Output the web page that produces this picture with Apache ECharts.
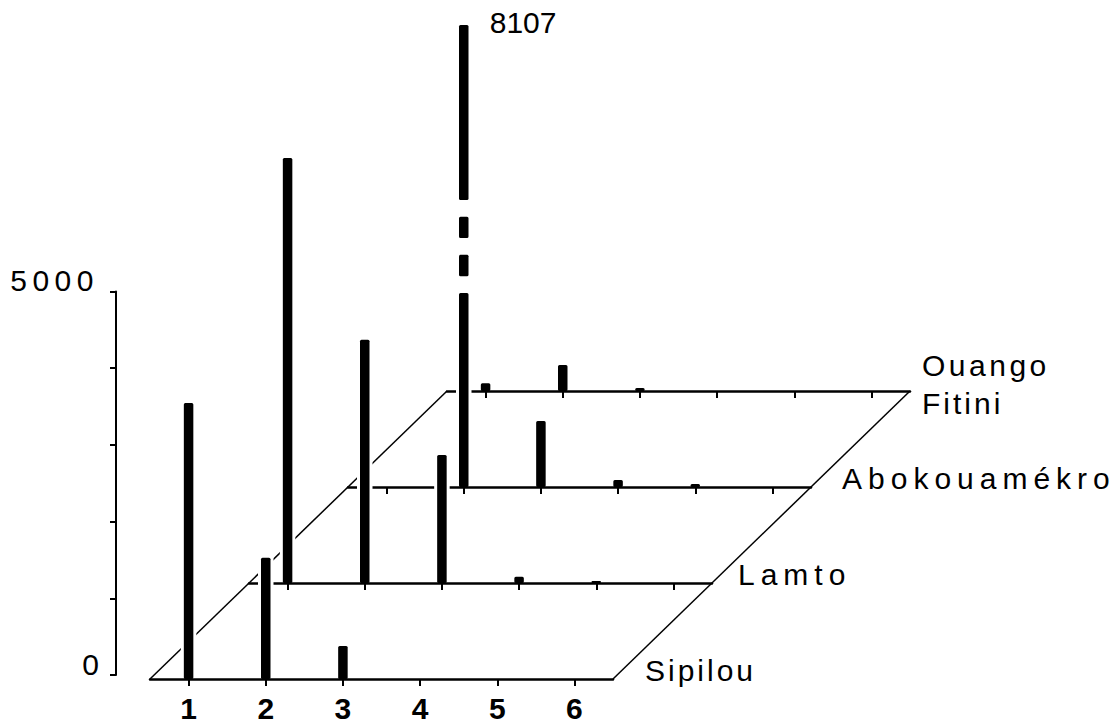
<!DOCTYPE html>
<html><head><meta charset="utf-8">
<script src="https://cdn.jsdelivr.net/npm/echarts@6/dist/echarts.min.js"></script>
<style>html,body{margin:0;padding:0;background:#fff}#c{width:1119px;height:725px}</style>
</head><body><div id="c"></div>
<script>
// ---- data ----
const CATEGORIES = ['1', '2', '3', '4', '5', '6'];
const SITES = ['Sipilou', 'Lamto', 'Abokouamékro', ['Ouango', 'Fitini']]; // front -> back
const SIPILOU = [3600, 1580, 430, 0, 0, 0];
const LAMTO = [5540, 3170, 1670, 80, 25, 0];
const ABOKOUAMEKRO = [0, 8107, 860, 90, 40, 0];
const OUANGO_FITINI = [100, 340, 40, 0, 0, 0];
const Y_LABELLED = [0, 5000];
const Y_MAX = 5000, Y_STEP = 1000;
const BREAK = { start: 2530, end: 5825, gap: 1213 }; // broken scale on the Abokouamékro row
const ROWS = [SIPILOU, LAMTO, ABOKOUAMEKRO, OUANGO_FITINI];
const BROKEN_ROW = 2;

// ---- layout / style ----
const FRONT_LEFT = 150, FRONT_BASE = 679, PLOT_W = 463, PX = 383.5 / 5000;
const DEPTH_DX = 99, DEPTH_DY = 96;
const AXIS_X = 116, AXIS_ZERO = 675;
const NAME_GAPS = [32, 26, 31, 12];
const BAR_W = 9.5, HALO = 3;
const FONT = '"Liberation Sans", Arial, Helvetica, sans-serif';
const TRACKING = { '5000': 5.5, 'Sipilou': 3, 'Lamto': 6, 'Abokouamékro': 6, 'Ouango': 3.5, 'Fitini': 3 };

const chart = echarts.init(document.getElementById('c'), null, { renderer: 'svg' });

function nameOf(site) {
  return Array.isArray(site) ? '{a|' + site[0] + '}\n{b|' + site[1] + '}' : site;
}

const grids = [], xAxes = [], yAxes = [], series = [];
for (let r = 0; r < ROWS.length; r++) {
  const left = FRONT_LEFT + r * DEPTH_DX;
  const base = FRONT_BASE - r * DEPTH_DY;
  const broken = r === BROKEN_ROW;
  const maxV = broken ? Math.max(...ROWS[r]) : Y_MAX;
  const span = broken ? maxV - (BREAK.end - BREAK.start) + BREAK.gap : Y_MAX;
  const h = span * PX;
  grids.push({ left: left, top: base - h, width: PLOT_W, height: h, containLabel: false, outerBoundsMode: 'none' });
  const zBack = 1 + 2 * (ROWS.length - 1 - r);
  const twoLine = Array.isArray(SITES[r]);
  xAxes.push({
    gridIndex: r, type: 'category', data: CATEGORIES, boundaryGap: true, z: zBack,
    axisLine: { show: true, lineStyle: { color: '#000', width: 2.5 } },
    axisTick: { show: true, alignWithLabel: true, length: 7, lineStyle: { color: '#000', width: 2 } },
    axisLabel: r === 0 ? { show: true, fontSize: 30, lineHeight: 30, fontWeight: 'bold', color: '#000', fontFamily: FONT, margin: 14 } : { show: false },
    splitLine: { show: false },
    name: nameOf(SITES[r]), nameLocation: 'end', nameGap: NAME_GAPS[r],
    nameTextStyle: twoLine ? {
      fontSize: 30, color: '#000', fontFamily: FONT, align: 'left', verticalAlign: 'middle',
      rich: { a: { fontSize: 30, fontFamily: FONT, color: '#000', lineHeight: 24 }, b: { fontSize: 30, fontFamily: FONT, color: '#000', lineHeight: 52 } }
    } : { fontSize: 30, color: '#000', fontFamily: FONT, align: 'left', verticalAlign: 'bottom', lineHeight: 18 }
  });
  const ya = { gridIndex: r, type: 'value', min: 0, max: maxV, show: false, splitLine: { show: false } };
  if (broken) { ya.breaks = [{ start: BREAK.start, end: BREAK.end, gap: BREAK.gap }]; ya.breakArea = { show: false }; }
  yAxes.push(ya);
  series.push({
    type: 'custom', xAxisIndex: r, yAxisIndex: r, z: zBack + 1, clip: false, silent: true,
    data: ROWS[r].map((v, i) => [i, v]),
    renderItem: makeRender(broken)
  });
}
// vertical scale axis
grids.push({ left: AXIS_X, top: AXIS_ZERO - Y_MAX * PX, width: 10, height: Y_MAX * PX, containLabel: false, outerBoundsMode: 'none' });
xAxes.push({ gridIndex: 4, type: 'value', show: false, min: 0, max: 1 });
yAxes.push({
  gridIndex: 4, type: 'value', min: 0, max: Y_MAX, interval: Y_STEP, position: 'left',
  axisLine: { show: true, lineStyle: { color: '#000', width: 2 } },
  axisTick: { show: true, inside: false, length: 6, lineStyle: { color: '#000', width: 2 } },
  axisLabel: { show: true, formatter: v => Y_LABELLED.includes(v) ? String(v) : '', fontSize: 30, color: '#000', fontFamily: FONT,
    margin: 17, verticalAlign: 'bottom', lineHeight: 22 },
  splitLine: { show: false }
});

function makeRender(broken) {
  return function (params, api) {
    const i = api.value(0), v = api.value(1);
    if (!v) return null;
    const base = api.coord([i, 0]), top = api.coord([i, v]);
    const x = base[0];
    const children = [{
      type: 'rect', shape: { x: x - BAR_W / 2 - HALO, y: top[1] - HALO, width: BAR_W + 2 * HALO, height: Math.max(0, base[1] - 2 - (top[1] - HALO)) },
      style: { fill: '#fff' }
    }];
    const seg = (y1, y2) => children.push({ type: 'rect', shape: { x: x - BAR_W / 2, y: y1, width: BAR_W, height: y2 - y1, r: 1.5 }, style: { fill: '#000' } });
    if (broken && v > BREAK.end) {
      const b0 = api.coord([i, BREAK.start])[1];
      const b1 = api.coord([i, BREAK.end])[1];
      const L = b0 - b1, g = 0.18 * L, d = 0.23 * L;
      seg(b0, base[1]);
      seg(b0 - g - d, b0 - g);
      seg(b0 - 2 * g - 2 * d, b0 - 2 * g - d);
      seg(top[1], b1);
      children.push({ type: 'text', x: x + 26, y: top[1] - 2,
        style: { text: String(v), fontSize: 30, fontFamily: FONT, fill: '#000', align: 'left', verticalAlign: 'middle' } });
    } else {
      seg(top[1], base[1]);
    }
    return { type: 'group', children: children };
  };
}

chart.setOption({ animation: false, grid: grids, xAxis: xAxes, yAxis: yAxes, series: series });

// floor diagonals joining the row ends (pixel ends come from each row's own axes)
function rowEnd(r, side) {
  const p0 = chart.convertToPixel({ gridIndex: r }, [0, 0]);
  const p1 = chart.convertToPixel({ gridIndex: r }, [1, 0]);
  const pn = chart.convertToPixel({ gridIndex: r }, [CATEGORIES.length - 1, 0]);
  const band = p1[0] - p0[0];
  return side === 'left' ? [p0[0] - band / 2, p0[1]] : [pn[0] + band / 2, pn[1]];
}
const last = ROWS.length - 1;
const L0 = rowEnd(0, 'left'), L1 = rowEnd(last, 'left'), R0 = rowEnd(0, 'right'), R1 = rowEnd(last, 'right');
chart.setOption({ graphic: [
  { type: 'line', z: 0, silent: true, shape: { x1: L0[0], y1: L0[1], x2: L1[0], y2: L1[1] }, style: { stroke: '#000', lineWidth: 1.5 } },
  { type: 'line', z: 0, silent: true, shape: { x1: R0[0], y1: R0[1], x2: R1[0], y2: R1[1] }, style: { stroke: '#000', lineWidth: 1.5 } }
] });

function track() {
  document.querySelectorAll('#c text').forEach(t => {
    const s = TRACKING[t.textContent.trim()];
    if (s != null) t.setAttribute('letter-spacing', s);
  });
}
track();
chart.on('finished', track);
setTimeout(track, 50);
</script></body></html>
